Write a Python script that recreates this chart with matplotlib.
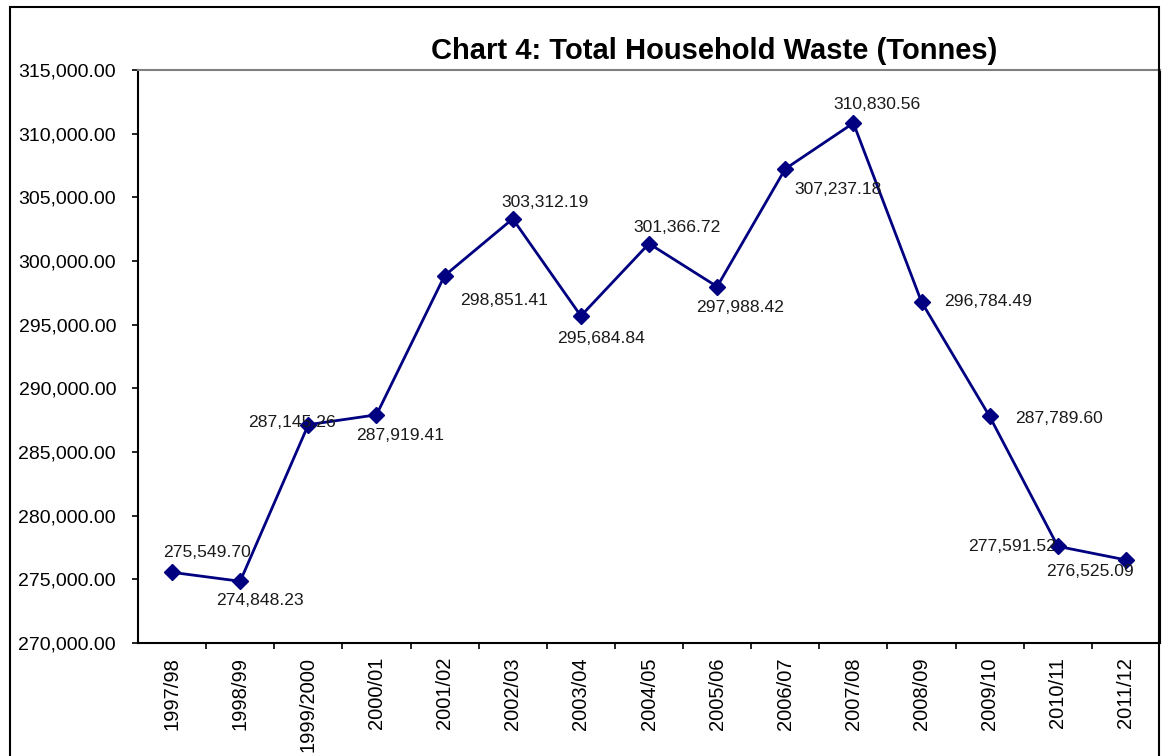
import matplotlib.pyplot as plt
from matplotlib.patches import Rectangle
from matplotlib.ticker import FuncFormatter, FixedLocator

plt.rcParams['font.family'] = ['Liberation Sans', 'DejaVu Sans']

years = ['1997/98', '1998/99', '1999/2000', '2000/01', '2001/02', '2002/03', '2003/04',
         '2004/05', '2005/06', '2006/07', '2007/08', '2008/09', '2009/10', '2010/11', '2011/12']
waste = [275549.70, 274848.23, 287145.26, 287919.41, 298851.41, 303312.19, 295684.84,
         301366.72, 297988.42, 307237.18, 310830.56, 296784.49, 287789.60, 277591.52, 276525.09]

# label offsets from each point, in pixels (right, down)
label_dx = [35, 20, -16, 24, 59, 32, 20, 28, 23, 53, 24, 67, 69, -46, -36]
label_dy = [-20, 19, -2, 21, 25, -16, 23, -16, 21, 21, -19, 0, 2, 0, 12]

fig = plt.figure(figsize=(11.65, 7.56), dpi=100)
ax = fig.add_axes([138 / 1165, 1 - 643 / 756, (1160 - 138) / 1165, (643 - 70) / 756])

x = list(range(len(years)))
ax.plot(x, waste, color='#000080', lw=2, marker='D', markersize=8.5, zorder=3)

px = 0.72  # points per pixel at dpi 100
for i, v in enumerate(waste):
    ax.annotate(f'{v:,.2f}', (i, v), xytext=(label_dx[i] * px, -label_dy[i] * px),
                textcoords='offset points', ha='center', va='center',
                fontsize=12.6, color='#1a1a1a', zorder=4)

ax.set_xlim(-0.5, len(years) - 0.5)
ax.set_ylim(270000, 315000)
ax.set_yticks(range(270000, 315001, 5000))
ax.yaxis.set_major_formatter(FuncFormatter(lambda v, p: f'{v:,.2f}'))
ax.tick_params(axis='y', labelsize=14, length=6 * px, width=1.2, pad=16 * px, colors='black')

ax.set_xticks(x)
ax.set_xticklabels(years, rotation=90, fontsize=14.5, va='top')
ax.tick_params(axis='x', which='major', length=0, pad=14 * px)
ax.xaxis.set_minor_locator(FixedLocator([i + 0.5 for i in range(len(years) - 1)]))
ax.tick_params(axis='x', which='minor', length=6 * px, width=1.2)

for s in ['left', 'bottom']:
    ax.spines[s].set_linewidth(1.5)
    ax.spines[s].set_color('black')
ax.spines['top'].set_color('#808080')
ax.spines['top'].set_linewidth(1.5)
ax.spines['right'].set_color('black')
ax.spines['right'].set_linewidth(1.5)

fig.text(714 / 1165, 1 - 51 / 756, 'Chart 4: Total Household Waste (Tonnes)',
         ha='center', va='center', fontsize=21, fontweight='bold')

fig.patches.append(Rectangle((10 / 1165, -0.05), (1159 - 10) / 1165, 1.05 - 7 / 756,
                             transform=fig.transFigure, fill=False, edgecolor='black', lw=1.5))

fig.savefig('out.png', dpi=100)
